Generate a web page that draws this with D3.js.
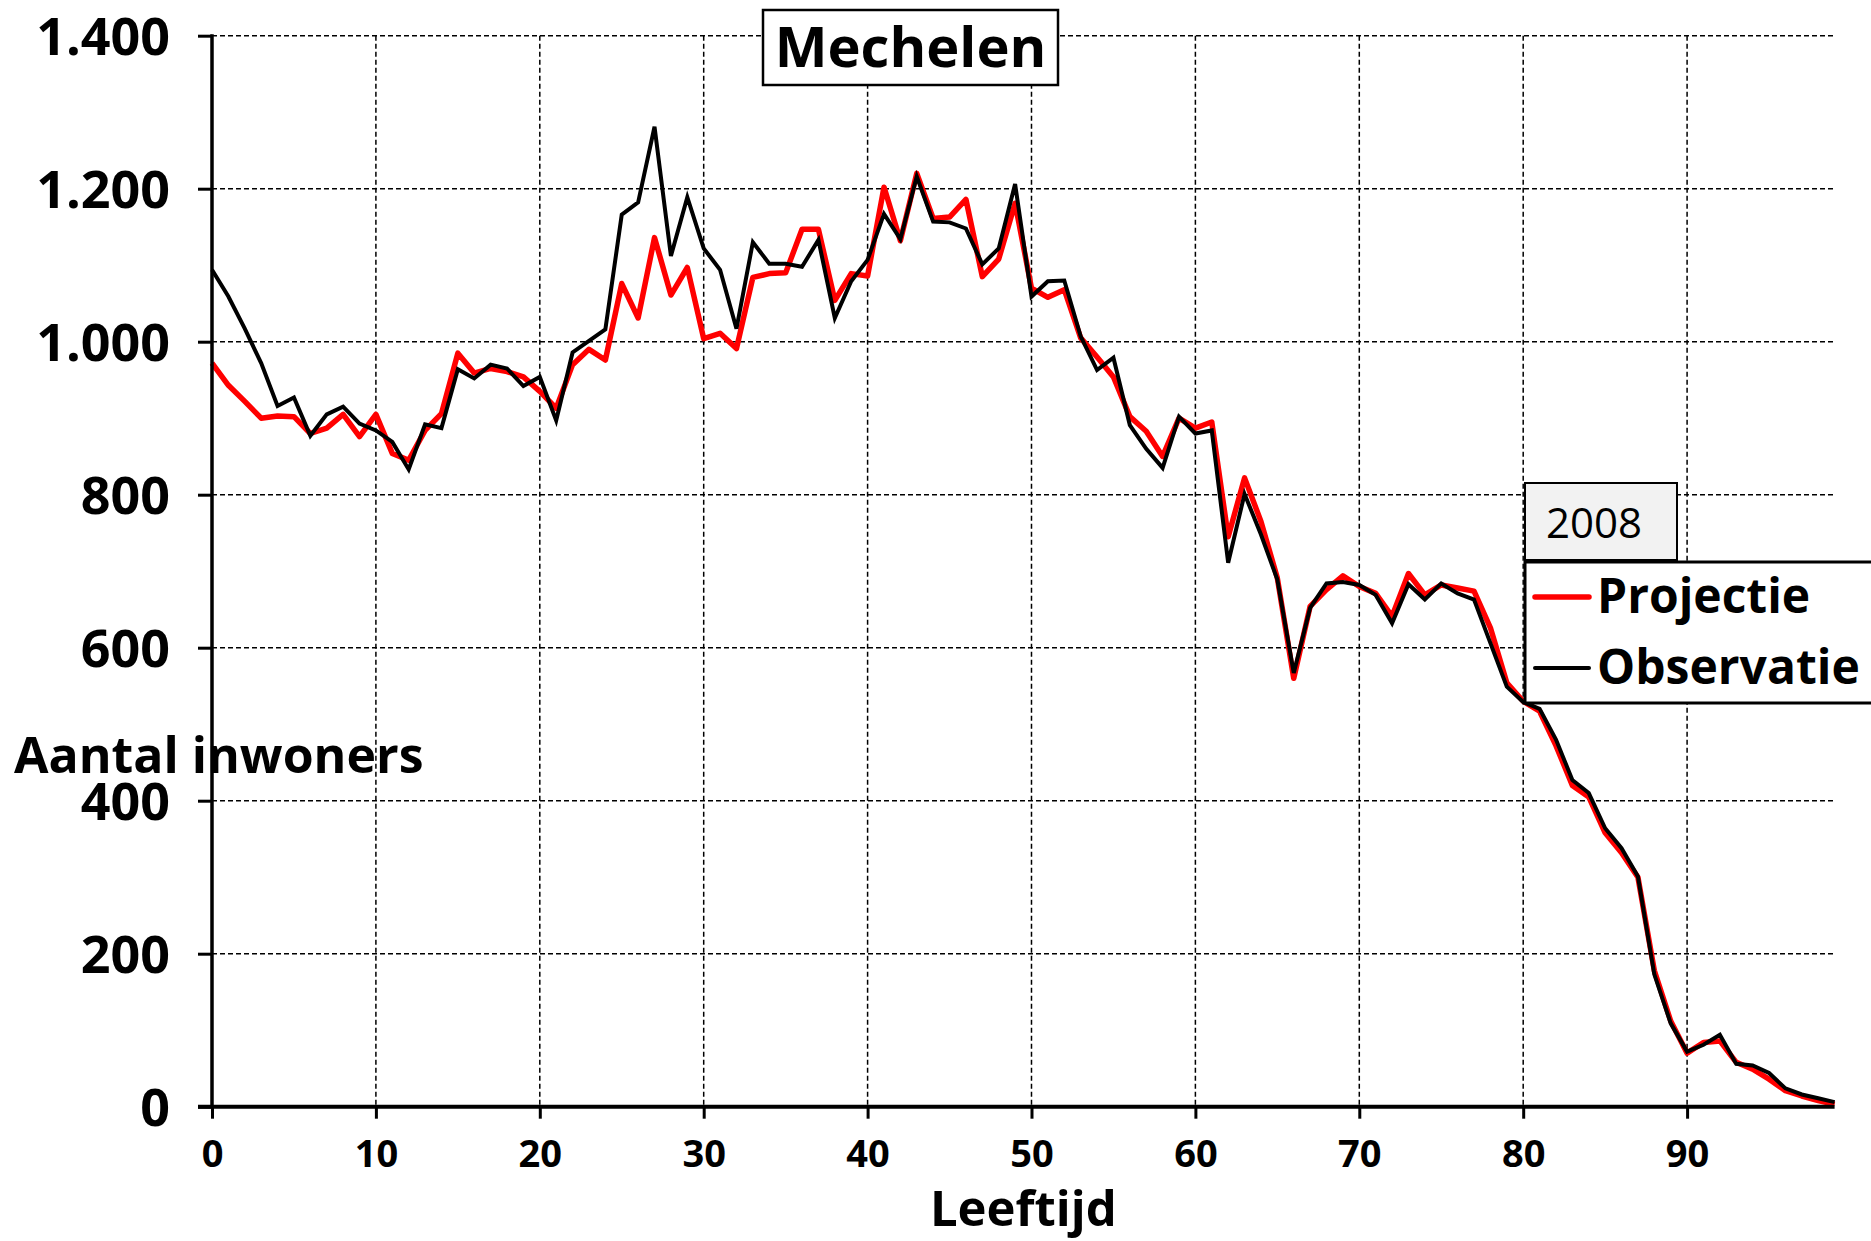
<html>
  <head>
    <style>
      body { margin: 0; background: #fff; }
      text { font-family: "Open Sans", sans-serif; fill: #000; }
      .grid line { stroke: #000; stroke-width: 1.5px; stroke-dasharray: 5,3; }
    </style>
  </head>
  <body>
    <script src="https://d3js.org/d3.v7.min.js"></script>
    <script>
    // chart data: ages 0..99, inhabitants per age
    var ages = d3.range(0, 100);
    var projectie = [972, 943, 922, 900, 903, 902, 880, 887, 905, 876,
      905, 854, 845, 884, 906, 985, 959, 965, 961, 954,
      935, 913, 970, 990, 976, 1076, 1031, 1136, 1061, 1097,
      1004, 1011, 991, 1084, 1089, 1090, 1147, 1147, 1054, 1089,
      1086, 1202, 1132, 1220, 1161, 1163, 1186, 1085, 1108, 1181,
      1070, 1058, 1068, 1005, 980, 954, 902, 883, 850, 900,
      887, 895, 745, 822, 765, 691, 560, 654, 676, 694,
      680, 671, 641, 697, 669, 682, 678, 674, 626, 554,
      530, 517, 472, 420, 405, 358, 332, 300, 178, 112,
      70, 84, 86, 58, 49, 36, 21, 14, 8, 3];
    var observatie = [1094, 1059, 1017, 972, 916, 927, 877, 905, 915, 893,
      884, 869, 833, 892, 887, 964, 952, 970, 965, 942,
      954, 897, 986, 1001, 1016, 1166, 1182, 1281, 1112, 1189,
      1122, 1094, 1017, 1130, 1102, 1102, 1098, 1133, 1031, 1079,
      1107, 1167, 1134, 1216, 1157, 1156, 1148, 1101, 1122, 1206,
      1059, 1079, 1080, 1007, 963, 979, 891, 860, 835, 902,
      880, 884, 711, 801, 748, 689, 567, 652, 684, 686,
      682, 669, 632, 683, 663, 684, 671, 663, 606, 549,
      529, 520, 480, 427, 410, 364, 338, 301, 173, 109,
      72, 81, 94, 56, 54, 44, 24, 16, 11, 6];
    var xTicks = [0, 10, 20, 30, 40, 50, 60, 70, 80, 90];
    var yTicks = [0, 200, 400, 600, 800, 1000, 1200, 1400];
    var seriesNames = ["Projectie", "Observatie"];
    var seriesColors = ["#ff0000", "#000000"];

    var width = 1871, height = 1241;

    var svg = d3.select("body").append("svg")
        .attr("width", width)
        .attr("height", height);

    var x = d3.scaleLinear().domain([0, 99]).range([212, 1834.6]);
    var y = d3.scaleLinear().domain([0, 1400]).range([1106.7, 35.7]);

    // dutch number format: 1.400
    var nl = d3.formatLocale({decimal: ",", thousands: ".", grouping: [3], currency: ["", ""]});
    var fmt = nl.format(",");

    // dashed grid
    var grid = svg.append("g").attr("class", "grid");
    grid.selectAll(".h").data(yTicks.slice(1)).enter().append("line")
        .attr("x1", x(0)).attr("x2", x(99))
        .attr("y1", function(d) { return y(d); })
        .attr("y2", function(d) { return y(d); });
    grid.selectAll(".v").data(xTicks.slice(1)).enter().append("line")
        .attr("x1", function(d) { return x(d); })
        .attr("x2", function(d) { return x(d); })
        .attr("y1", y(1400)).attr("y2", y(0));

    // y axis label sits under the axis line
    svg.append("text")
        .attr("x", 14).attr("y", 773)
        .attr("font-size", 50).attr("font-weight", "bold")
        .text("Aantal inwoners");

    // lines
    var line = d3.line()
        .x(function(d, i) { return x(ages[i]); })
        .y(function(d) { return y(d); });

    svg.append("path").datum(projectie)
        .attr("d", line)
        .attr("fill", "none")
        .attr("stroke", seriesColors[0])
        .attr("stroke-width", 5.5)
        .attr("stroke-linejoin", "round");

    svg.append("path").datum(observatie)
        .attr("d", line)
        .attr("fill", "none")
        .attr("stroke", seriesColors[1])
        .attr("stroke-width", 4)
        .attr("stroke-linejoin", "miter");

    // axes
    var yAxis = svg.append("g")
        .attr("transform", "translate(" + x(0) + ",0)")
        .call(d3.axisLeft(y).tickValues(yTicks).tickFormat(fmt).tickSize(14).tickSizeOuter(0).tickPadding(28));
    yAxis.select(".domain").remove();
    yAxis.selectAll(".tick line").attr("stroke", "#000").attr("stroke-width", 3);
    yAxis.selectAll("text")
        .attr("font-family", "Open Sans")
        .attr("font-size", 52).attr("font-weight", "bold")
        .attr("fill", "#000").attr("dy", "0.36em");
    svg.append("line")
        .attr("x1", x(0)).attr("x2", x(0))
        .attr("y1", y(1400) - 1.5).attr("y2", y(0))
        .attr("stroke", "#000").attr("stroke-width", 3.5);

    var xAxis = svg.append("g")
        .attr("transform", "translate(0," + y(0) + ")")
        .call(d3.axisBottom(x).tickValues(xTicks).tickSize(12).tickSizeOuter(0).tickPadding(21));
    xAxis.select(".domain").remove();
    xAxis.selectAll(".tick line").attr("stroke", "#000").attr("stroke-width", 3);
    xAxis.selectAll("text")
        .attr("font-family", "Open Sans")
        .attr("font-size", 38).attr("font-weight", "bold")
        .attr("fill", "#000");
    svg.append("line")
        .attr("x1", x(0) - 14).attr("x2", x(99))
        .attr("y1", y(0)).attr("y2", y(0))
        .attr("stroke", "#000").attr("stroke-width", 4);

    svg.append("text")
        .attr("x", (x(0) + x(99)) / 2).attr("y", 1226)
        .attr("text-anchor", "middle")
        .attr("font-size", 49).attr("font-weight", "bold")
        .text("Leeftijd");

    // title box
    svg.append("rect")
        .attr("x", 763).attr("y", 10).attr("width", 295).attr("height", 75)
        .attr("fill", "#fff").attr("stroke", "#000").attr("stroke-width", 2.5);
    svg.append("text")
        .attr("x", 910.5).attr("y", 67)
        .attr("text-anchor", "middle")
        .attr("font-size", 56).attr("font-weight", "bold")
        .text("Mechelen");

    // legend
    svg.append("rect")
        .attr("x", 1525).attr("y", 483).attr("width", 152).attr("height", 77)
        .attr("fill", "#f2f2f2").attr("stroke", "#000").attr("stroke-width", 2);
    svg.append("text")
        .attr("x", 1546).attr("y", 538)
        .attr("font-size", 42)
        .text("2008");

    svg.append("rect")
        .attr("x", 1525).attr("y", 562).attr("width", 400).attr("height", 141)
        .attr("fill", "#fff").attr("stroke", "#000").attr("stroke-width", 3);

    var leg = svg.selectAll(".leg").data(seriesNames).enter().append("g")
        .attr("transform", function(d, i) { return "translate(1535," + (597 + i * 71) + ")"; });
    leg.append("line")
        .attr("x1", 0).attr("x2", 54)
        .attr("stroke", function(d, i) { return seriesColors[i]; })
        .attr("stroke-width", function(d, i) { return i === 0 ? 5.5 : 4; })
        .attr("stroke-linecap", "round");
    leg.append("text")
        .attr("x", 62).attr("y", 16)
        .attr("font-size", 48).attr("font-weight", "bold")
        .text(function(d) { return d; });
    </script>
  </body>
</html>
